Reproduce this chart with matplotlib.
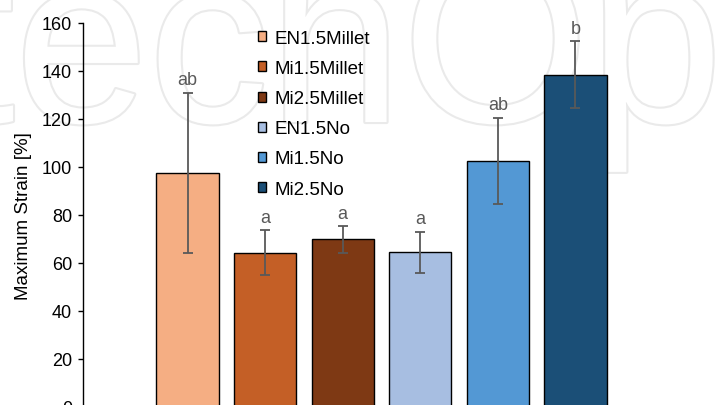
import matplotlib
matplotlib.use("Agg")
import matplotlib.pyplot as plt
import matplotlib.patheffects as pe
from matplotlib.patches import Patch

# data
groups = ["EN1.5Millet", "Mi1.5Millet", "Mi2.5Millet", "EN1.5No", "Mi1.5No", "Mi2.5No"]
strain = [97.5, 64.3, 69.8, 64.5, 102.5, 138.5]
strain_err = [33.5, 9.5, 5.5, 8.5, 18.0, 14.0]
letters = ["ab", "a", "a", "a", "ab", "b"]
colors = ["#F5AE83", "#C45F26", "#7E3914", "#A7BEE1", "#5398D4", "#1B4F77"]
yticks = [0, 20, 40, 60, 80, 100, 120, 140, 160]

plt.rcParams["font.family"] = ["Liberation Sans", "DejaVu Sans"]

W, H = 720, 406
fig = plt.figure(figsize=(W / 100, H / 100), dpi=100)
fig.patch.set_facecolor("white")

# faint publisher watermark behind the plot
fig.text(-52 / W, 1 - 123 / H, "techOpen", fontsize=173, color="white",
         ha="left", va="baseline", zorder=-5,
         path_effects=[pe.withStroke(linewidth=3, foreground="#eaeaea")])

ax = fig.add_axes([83 / W, 1 - 408 / H, (681 - 83) / W, (408 - 24) / H])
ax.set_facecolor("none")

x = list(range(len(groups)))
ax.bar(x, strain, width=0.8, color=colors, edgecolor="black", linewidth=1.0, zorder=2)
ax.errorbar(x, strain, yerr=strain_err, fmt="none", ecolor="#595959",
            elinewidth=1.3, capsize=3.5, capthick=1.3, zorder=3)

for xi, v, e, lab in zip(x, strain, strain_err, letters):
    ax.annotate(lab, (xi, v + e), xytext=(0, 6), textcoords="offset points",
                ha="center", va="baseline", fontsize=13, color="#595959")

ax.set_xlim(-1.347, 6.36)
ax.set_ylim(0, 160)
ax.set_yticks(yticks)
ax.set_xticks([])
ax.tick_params(axis="y", direction="out", length=3.6, width=1.0, pad=4.3,
               labelsize=13, colors="black")
for s in ["top", "right", "bottom"]:
    ax.spines[s].set_visible(False)
ax.spines["left"].set_linewidth(1.0)
ax.set_ylabel("Maximum Strain [%]", fontsize=13.5, labelpad=7)

handles = [Patch(facecolor=c, edgecolor="black", linewidth=1.0) for c in colors]
ax.legend(handles, groups, loc="upper left", bbox_to_anchor=(258 / W, 1 - 31 / H),
          bbox_transform=fig.transFigure, frameon=False, fontsize=13.5,
          handlelength=0.45, handleheight=0.45, handletextpad=0.45,
          labelspacing=0.7, borderpad=0, borderaxespad=0)

fig.savefig("out.png", dpi=100)
